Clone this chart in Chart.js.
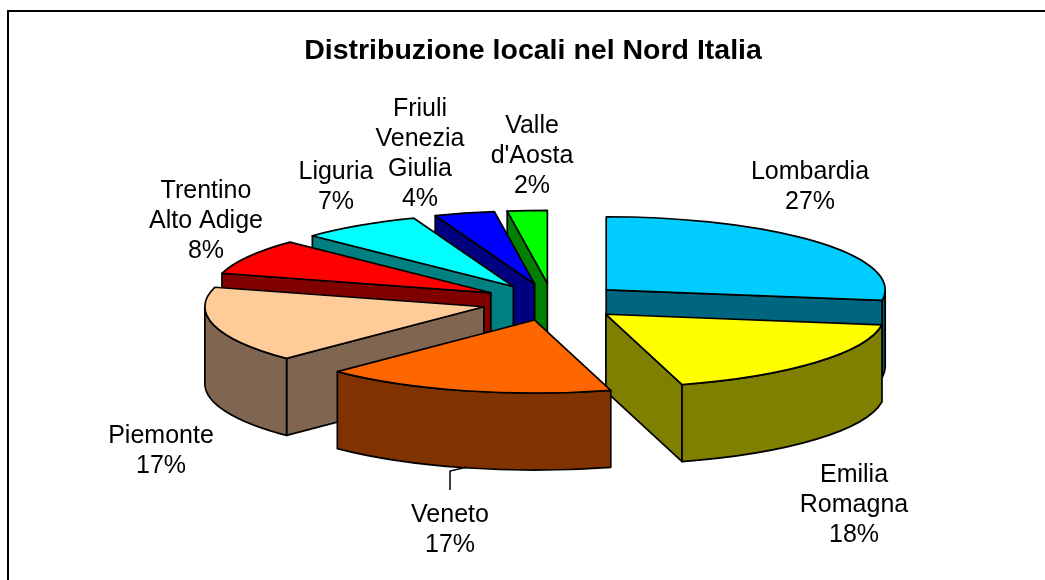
<!DOCTYPE html>
<html><head><meta charset="utf-8">
<style>html,body{margin:0;padding:0;background:#fff}canvas{display:block}</style>
<script src="https://cdn.jsdelivr.net/npm/chart.js@4/dist/chart.umd.min.js"></script>
</head><body><canvas id="c" width="1045" height="580"></canvas>
<script>
const titleText = 'Distribuzione locali nel Nord Italia';
const categories = ['Lombardia','Emilia Romagna','Veneto','Piemonte','Trentino Alto Adige','Liguria','Friuli Venezia Giulia',"Valle d'Aosta"];
const labelLines = [['Lombardia'],['Emilia','Romagna'],['Veneto'],['Piemonte'],['Trentino','Alto Adige'],['Liguria'],['Friuli','Venezia','Giulia'],['Valle',"d'Aosta"]];
const values = [27.3,18.3,16.9,16.8,7.9,7,3.5,2.3];
const topColors = ['#00CCFF','#FFFF00','#FF6600','#FFCC99','#FF0000','#00FFFF','#0000FF','#00FF00'];
const wallColors = ['#006680','#808000','#803300','#806650','#800000','#008080','#000080','#008000'];
const paintOrder = [7,6,5,4,3,0,1,2];
const labelX = [810,854,450,161,206,336,420,532];
const labelY = [172,475,515,436,191,172,109,126];
const TILT = 0.262, DEPTH = 77, EXPLODE = 71, LINE = 30;

function topPath(ctx,a,cx,cy){
  ctx.beginPath();
  ctx.moveTo(cx,cy);
  ctx.ellipse(cx,cy,a.outerRadius,a.outerRadius*TILT,0,a.startAngle,a.endAngle);
  ctx.closePath();
}
const pie3d = {
  id:'pie3d',
  beforeDatasetsDraw(chart){
    const ctx = chart.ctx, arcs = chart.getDatasetMeta(0).data;
    ctx.save();
    ctx.lineJoin = 'round';
    ctx.lineWidth = 1.7;
    ctx.strokeStyle = '#000';
    paintOrder.forEach(i=>{
      const a = arcs[i], r = a.outerRadius, ry = r*TILT;
      const mid = (a.startAngle+a.endAngle)/2, off = a.options.offset;
      const cx = a.x+Math.cos(mid)*off, cy = a.y+Math.sin(mid)*off*TILT;
      const pt = t=>[cx+r*Math.cos(t),cy+ry*Math.sin(t)];
      ctx.fillStyle = wallColors[i];
      // radial walls facing the viewer
      [a.startAngle,a.endAngle].forEach((t,k)=>{
        const n = Math.cos(t);
        if((k===0 && n<0) || (k===1 && n>0)){
          const p = pt(t);
          ctx.beginPath();
          ctx.moveTo(cx,cy);ctx.lineTo(p[0],p[1]);ctx.lineTo(p[0],p[1]+DEPTH);ctx.lineTo(cx,cy+DEPTH);ctx.closePath();
          ctx.fill();ctx.stroke();
        }
      });
      // outer rim, lower half only
      const s = Math.max(a.startAngle,0), e = Math.min(a.endAngle,Math.PI);
      if(e>s){
        const ps = pt(s), pe = pt(e);
        ctx.beginPath();
        ctx.moveTo(ps[0],ps[1]);
        ctx.ellipse(cx,cy,r,ry,0,s,e);
        ctx.lineTo(pe[0],pe[1]+DEPTH);
        ctx.ellipse(cx,cy+DEPTH,r,ry,0,e,s,true);
        ctx.closePath();
        ctx.fill();ctx.stroke();
      }
      topPath(ctx,a,cx,cy);
      ctx.fillStyle = a.options.backgroundColor;
      ctx.fill();ctx.stroke();
    });
    ctx.restore();
    return false;
  },
  afterDraw(chart){
    const ctx = chart.ctx, total = values.reduce((p,v)=>p+v,0);
    ctx.save();
    ctx.strokeStyle='#000';ctx.lineWidth=2;
    ctx.beginPath();ctx.moveTo(8,580);ctx.lineTo(8,11);ctx.lineTo(1045,11);ctx.stroke();
    ctx.lineWidth=1.5;
    ctx.beginPath();ctx.moveTo(467,467);ctx.lineTo(450,471);ctx.lineTo(450,490);ctx.stroke();
    ctx.fillStyle='#000';ctx.textAlign='center';ctx.textBaseline='middle';
    ctx.font='25px "Liberation Sans", Arial, sans-serif';
    labelLines.forEach((ls,i)=>{
      [...ls,Math.round(values[i]/total*100)+'%'].forEach((t,k)=>ctx.fillText(t,labelX[i],labelY[i]+k*LINE));
    });
    ctx.restore();
  }
};
new Chart(document.getElementById('c'),{
  type:'pie',
  data:{labels:categories,datasets:[{data:values,backgroundColor:topColors,borderWidth:0,offset:EXPLODE}]},
  options:{
    responsive:false,animation:false,radius:279,
    events:[],
    layout:{padding:{left:60,top:24}},
    plugins:{
      legend:{display:false},tooltip:{enabled:false},
      title:{display:false}
    }
  },
  plugins:[pie3d,{id:'ttl',afterDraw(chart){const c=chart.ctx;c.save();c.fillStyle='#000';c.textAlign='center';c.textBaseline='middle';c.font='bold 28.5px "Liberation Sans", Arial, sans-serif';c.fillText(titleText,533,51);c.restore();}}]
});
</script></body></html>
